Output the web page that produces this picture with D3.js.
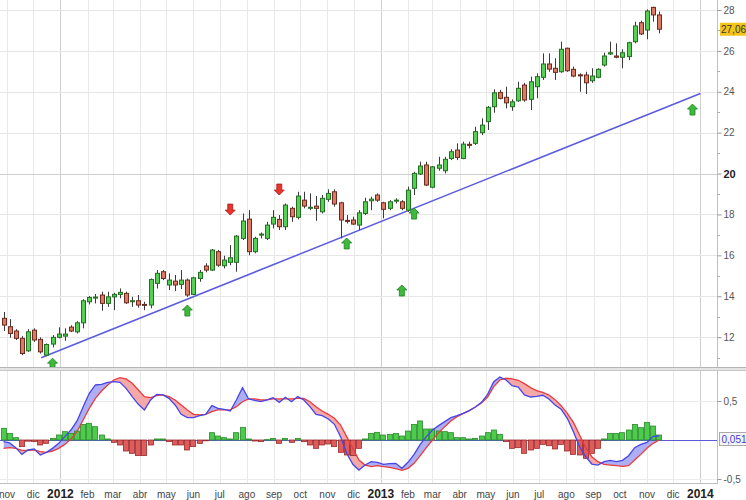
<!DOCTYPE html>
<html><head><meta charset="utf-8">
<script src="https://cdn.jsdelivr.net/npm/d3@7"></script>
<style>body{margin:0;background:#fff}svg{display:block;font-family:"Liberation Sans",Arial,sans-serif}</style>
</head><body><svg id="c" width="746" height="500"></svg>
<script>
// ---------- DATA ----------
const firstWeek = "2011-10-28";
const opens = [12.92,12.51,12.30,11.94,11.33,12.34,11.89,11.12,11.66,11.99, 12.05,12.49,12.26,12.70,13.73,13.93,14.06,13.65,13.97,14.09, 14.14,13.74,13.78,13.60,13.57,14.63,15.20,14.55,14.74,14.58, 14.79,14.09,14.87,15.48,15.28,16.18,15.49,15.66,15.66,16.83, 17.77,16.18,17.00,16.83,17.53,17.76,17.40,18.30,17.86,18.70, 18.33,18.41,18.13,18.74,19.11,18.57,17.71,17.73,17.48,18.05, 18.67,18.95,18.57,18.30,18.68,18.62,18.21,19.28,19.98,20.42, 19.33,20.26,20.14,20.74,21.15,20.74,21.43,21.48,22.00,22.54, 23.27,23.97,23.73,23.27,23.56,24.33,23.63,24.25,24.71,25.36, 25.15,24.98,26.13,25.10,24.83,24.82,24.54,24.71,25.31,25.85, 25.75,25.69,25.72,26.45,27.38,27.02,28.13,27.76];
const highs = [13.23,12.88,12.39,12.05,12.39,12.43,11.99,11.69,12.10,12.48, 12.43,12.58,12.78,13.85,14.01,14.11,14.22,14.22,14.17,14.38, 14.22,13.97,14.06,13.73,14.87,15.28,15.28,15.12,15.04,15.28, 14.87,14.95,15.28,15.61,16.31,16.26,15.98,16.50,16.99,18.05, 18.21,16.91,17.12,17.64,18.21,17.97,18.54,18.38,19.11,19.11, 19.03,18.90,18.95,19.23,19.23,18.62,17.97,17.89,18.21,18.82, 18.87,19.03,18.62,18.70,18.79,18.70,19.36,20.09,20.58,20.58, 20.37,20.82,20.82,21.19,21.48,21.56,21.56,22.29,22.70,23.30, 24.12,24.09,24.25,23.63,24.49,24.44,24.74,24.90,25.88,25.88, 25.64,26.45,26.16,25.23,24.90,24.98,25.15,25.15,25.91,26.45, 26.37,26.08,26.45,27.43,27.48,28.03,28.16,27.92];
const lows = [12.30,11.97,11.86,11.12,11.28,11.77,11.20,11.07,11.50,11.94, 11.82,12.25,12.18,12.43,13.60,13.65,13.29,13.48,13.32,13.90, 13.62,13.48,13.44,13.32,13.41,14.38,14.79,14.30,14.25,14.35, 13.97,14.06,14.71,15.17,15.23,15.44,15.36,15.52,15.20,16.75, 16.01,16.10,16.83,16.75,17.32,17.24,17.24,17.64,17.76,18.30, 18.21,17.69,18.05,18.62,18.38,16.83,17.56,17.48,17.24,17.97, 18.21,18.62,17.81,18.21,18.54,18.21,18.13,18.95,19.93,19.39, 19.28,20.14,20.01,20.66,20.66,20.70,21.23,21.40,21.88,22.13, 22.98,23.63,23.19,23.07,23.51,23.51,23.11,23.68,24.58,24.98, 24.58,24.93,24.98,24.71,24.00,23.89,24.44,24.66,25.23,25.80, 25.64,25.15,25.55,26.37,26.78,26.57,27.43,26.86];
const closes = [12.59,12.18,11.94,11.20,12.26,11.86,11.28,11.64,11.99,12.15, 12.15,12.30,12.70,13.78,13.94,13.96,13.65,13.97,14.09,14.19, 13.68,13.78,13.57,13.58,14.82,15.12,14.87,14.79,14.55,14.79, 14.06,14.90,15.17,15.28,16.26,15.52,15.77,15.88,16.94,17.68, 16.18,16.83,17.04,17.48,17.86,17.40,18.46,17.89,18.90,18.41, 18.35,18.30,18.79,19.03,18.51,17.73,17.69,17.53,18.08,18.62, 18.75,18.70,18.25,18.62,18.70,18.30,19.19,20.01,20.37,19.44, 20.33,20.42,20.70,21.07,20.79,21.44,21.38,22.05,22.37,23.24, 23.95,23.68,23.46,23.51,24.17,23.60,24.49,24.74,25.36,25.11, 24.95,26.08,25.03,24.77,24.80,24.44,24.77,25.10,25.75,25.91, 25.69,25.91,26.40,27.22,26.83,27.95,27.76,27.06];

const macdLine = [-0.021,-0.038,-0.098,-0.184,-0.128,-0.115,-0.192,-0.158,-0.107,-0.043, 0.043,0.128,0.244,0.427,0.598,0.705,0.714,0.739,0.748,0.739, 0.662,0.556,0.457,0.385,0.513,0.585,0.577,0.534,0.449,0.329, 0.286,0.286,0.312,0.329,0.440,0.406,0.393,0.372,0.513,0.671, 0.526,0.509,0.491,0.513,0.543,0.483,0.547,0.491,0.556,0.513, 0.427,0.329,0.312,0.269,0.201,0.043,-0.171,-0.312,-0.385,-0.321, -0.278,-0.286,-0.312,-0.303,-0.299,-0.363,-0.286,-0.184,-0.056,0.043, 0.128,0.184,0.235,0.286,0.312,0.342,0.376,0.423,0.483,0.585, 0.748,0.808,0.769,0.697,0.679,0.577,0.551,0.560,0.573,0.526, 0.449,0.393,0.278,0.107,-0.085,-0.214,-0.308,-0.321,-0.278,-0.261, -0.278,-0.261,-0.201,-0.098,-0.056,-0.030,0.047,0.051];
const signalLine = [-0.107,-0.098,-0.107,-0.132,-0.132,-0.128,-0.150,-0.158,-0.141,-0.107, -0.056,0.013,0.107,0.256,0.406,0.534,0.628,0.705,0.769,0.799, 0.782,0.726,0.641,0.556,0.543,0.568,0.577,0.556,0.513,0.449, 0.385,0.329,0.321,0.329,0.363,0.385,0.385,0.385,0.427,0.491, 0.526,0.526,0.513,0.513,0.526,0.526,0.526,0.526,0.534,0.534, 0.491,0.427,0.372,0.329,0.278,0.192,0.043,-0.107,-0.256,-0.321, -0.342,-0.329,-0.342,-0.350,-0.368,-0.389,-0.363,-0.299,-0.201,-0.098, 0.000,0.094,0.171,0.244,0.299,0.338,0.376,0.423,0.474,0.551, 0.684,0.769,0.791,0.782,0.765,0.722,0.671,0.632,0.611,0.577, 0.517,0.440,0.342,0.226,0.064,-0.098,-0.214,-0.278,-0.312,-0.321, -0.329,-0.338,-0.329,-0.256,-0.184,-0.107,-0.043,0.000];
const histogram = [0.150,0.085,0.030,-0.085,-0.015,-0.020,-0.064,-0.043,0.021,0.064, 0.107,0.085,0.115,0.200,0.214,0.171,0.064,0.013,-0.030,-0.064, -0.141,-0.171,-0.200,-0.200,-0.064,0.013,0.013,-0.021,-0.064,-0.064, -0.128,-0.085,-0.043,-0.010,0.094,0.051,0.030,0.013,0.094,0.162, 0.013,-0.013,-0.021,0.005,0.021,-0.043,0.021,-0.030,0.021,-0.021, -0.064,-0.107,-0.064,-0.051,-0.085,-0.158,-0.192,-0.200,-0.107,0.013, 0.085,0.098,0.064,0.073,0.085,0.051,0.115,0.200,0.244,0.141, 0.141,0.115,0.107,0.094,0.030,0.030,0.013,0.021,0.051,0.094, 0.128,0.073,-0.021,-0.107,-0.098,-0.171,-0.128,-0.107,-0.056,-0.073, -0.115,-0.056,-0.141,-0.184,-0.192,-0.235,-0.171,-0.107,0.013,0.085, 0.085,0.094,0.128,0.200,0.158,0.226,0.179,0.064];

const signalDates = ["2011-12-23","2012-05-25","2012-07-13","2012-09-07","2012-11-23","2013-01-25","2013-02-08","2013-12-23"];
const signalPrices = [10.97,13.57,17.97,18.95,16.85,14.55,18.31,23.40];
const signalDirs = ["up","up","down","down","up","up","up","up"];

const trendDates = ["2011-12-10","2014-01-01"];
const trendPrices = [10.99,23.92];

const priceTicks = [12,14,16,18,20,22,24,26,28];
const priceMinorTicks = [11,13,15,17,19,21,23,25,27];
const macdTicks = [0.5,-0.5];
const monthNames = ["ene","feb","mar","abr","may","jun","jul","ago","sep","oct","nov","dic"];
const lastPrice = 27.06;
const lastMacd = 0.051;

// ---------- LAYOUT ----------
const plotR = 717;
const mainTop = 0, mainBot = 367;
const macdTop = 370, macdBot = 483;
const parse = d3.utcParse("%Y-%m-%d");
const fmt = v => d3.format(",.2f")(v).replace(".", ",");

const svg = d3.select("#c");
const x = d3.scaleUtc().domain([parse("2011-10-24"), parse("2014-01-20")]).range([0, plotR]);
const y = d3.scaleLinear().domain([10.49, 28.49]).range([368, 0]);
const yM = d3.scaleLinear().domain([-0.551, 0.897]).range([macdBot, macdTop]);

const dates = d3.range(opens.length).map(i => d3.utcDay.offset(parse(firstWeek), 7 * i));
const candles = dates.map((d, i) => ({d, o: opens[i], h: highs[i], l: lows[i], c: closes[i]}));

const months = d3.utcMonth.range(parse("2011-11-01"), parse("2014-01-20"));

// ---------- GRID ----------
const grid = svg.append("g");
[[mainTop, mainBot], [macdTop, macdBot]].forEach(([t, b]) => {
  grid.selectAll(null).data(months).join("line")
    .attr("x1", d => Math.round(x(d)) + 0.5).attr("x2", d => Math.round(x(d)) + 0.5)
    .attr("y1", t).attr("y2", b)
    .attr("stroke", d => d.getUTCMonth() === 0 ? "#cfcfcf" : "#e9e9e9");
});
grid.selectAll(null).data(priceTicks).join("line")
  .attr("x1", 0).attr("x2", plotR)
  .attr("y1", d => Math.round(y(d)) + 0.5).attr("y2", d => Math.round(y(d)) + 0.5)
  .attr("stroke", d => d === 20 ? "#cfcfcf" : "#e6e6e6");
grid.selectAll(null).data(macdTicks).join("line")
  .attr("x1", 0).attr("x2", plotR)
  .attr("y1", d => Math.round(yM(d)) + 0.5).attr("y2", d => Math.round(yM(d)) + 0.5)
  .attr("stroke", "#ececec");

// ---------- MAIN PANEL ----------
svg.append("clipPath").attr("id", "clipMain").append("rect")
  .attr("x", 0).attr("y", mainTop).attr("width", plotR).attr("height", mainBot - mainTop);
const main = svg.append("g").attr("clip-path", "url(#clipMain)");

main.append("line")
  .attr("x1", x(parse(trendDates[0]))).attr("y1", y(trendPrices[0]))
  .attr("x2", x(parse(trendDates[1]))).attr("y2", y(trendPrices[1]))
  .attr("stroke", "#5b5be0").attr("stroke-width", 1.5);

const cg = main.append("g");
cg.selectAll(".wick").data(candles).join("line")
  .attr("x1", d => Math.round(x(d.d)) + 0.5).attr("x2", d => Math.round(x(d.d)) + 0.5)
  .attr("y1", d => y(d.h)).attr("y2", d => y(d.l))
  .attr("stroke", "#3a3a3a").attr("stroke-width", 1);
cg.selectAll(".body").data(candles).join("rect")
  .attr("x", d => Math.round(x(d.d)) - 2 + 0.5)
  .attr("y", d => y(Math.max(d.o, d.c)))
  .attr("width", 4)
  .attr("height", d => Math.max(1, Math.abs(y(d.o) - y(d.c))))
  .attr("fill", d => d.c >= d.o ? "#55d055" : "#db7b66")
  .attr("stroke", d => d.c >= d.o ? "#236f23" : "#6e2a1e")
  .attr("stroke-width", 1);

const arrowUp = "M0,0 L5,5 L2.5,5 L2.5,11 L-2.5,11 L-2.5,5 L-5,5 Z";
const arrowDown = "M0,0 L5,-5 L2.5,-5 L2.5,-11 L-2.5,-11 L-2.5,-5 L-5,-5 Z";
main.selectAll(".arrow").data(signalDates.map((d, i) => ({d: parse(d), p: signalPrices[i], dir: signalDirs[i]})))
  .join("path")
  .attr("transform", d => `translate(${x(d.d)},${y(d.p)})`)
  .attr("d", d => d.dir === "up" ? arrowUp : arrowDown)
  .attr("fill", d => d.dir === "up" ? "#3dba3d" : "#e8342c")
  .attr("stroke", d => d.dir === "up" ? "#1f7f1f" : "#a81c16")
  .attr("stroke-width", 0.8);

// ---------- MACD PANEL ----------
svg.append("clipPath").attr("id", "clipMacd").append("rect")
  .attr("x", 0).attr("y", macdTop).attr("width", plotR).attr("height", macdBot - macdTop);
const mg = svg.append("g").attr("clip-path", "url(#clipMacd)");
const md = dates.map((d, i) => ({d, m: macdLine[i], s: signalLine[i], h: histogram[i]}));

const defs = svg.append("defs");
defs.append("clipPath").attr("id", "aboveSig").append("path")
  .attr("d", d3.area().x(d => x(d.d)).y0(macdTop).y1(d => yM(d.s))(md));
defs.append("clipPath").attr("id", "belowSig").append("path")
  .attr("d", d3.area().x(d => x(d.d)).y0(macdBot).y1(d => yM(d.s))(md));
const between = d3.area().x(d => x(d.d)).y0(d => yM(d.s)).y1(d => yM(d.m));
mg.append("g").attr("clip-path", "url(#aboveSig)").append("path")
  .attr("d", between(md)).attr("fill", "#aeaef5");
mg.append("g").attr("clip-path", "url(#belowSig)").append("path")
  .attr("d", between(md)).attr("fill", "#f5a8a8");

mg.append("line").attr("x1", 0).attr("x2", plotR)
  .attr("y1", Math.round(yM(0)) + 0.5).attr("y2", Math.round(yM(0)) + 0.5)
  .attr("stroke", "#5a5ad8").attr("stroke-width", 1);

mg.selectAll(".hb").data(md).join("rect")
  .attr("x", d => Math.round(x(d.d)) - 2.5)
  .attr("y", d => Math.min(yM(0), yM(d.h)))
  .attr("width", 5)
  .attr("height", d => Math.abs(yM(d.h) - yM(0)))
  .attr("fill", d => d.h >= 0 ? "#4ccb4c" : "#e05c5c")
  .attr("stroke", d => d.h >= 0 ? "#2a8a2a" : "#9a2a2a")
  .attr("stroke-width", 0.8);

mg.append("path").attr("d", d3.line().x(d => x(d.d)).y(d => yM(d.s))(md))
  .attr("fill", "none").attr("stroke", "#e83c3c").attr("stroke-width", 1.3);
mg.append("path").attr("d", d3.line().x(d => x(d.d)).y(d => yM(d.m))(md))
  .attr("fill", "none").attr("stroke", "#4646e6").attr("stroke-width", 1.3);

// ---------- FRAMES ----------
svg.append("line").attr("x1", 0).attr("x2", 746).attr("y1", 367.5).attr("y2", 367.5).attr("stroke", "#b5b5b5");
svg.append("rect").attr("x", 0).attr("y", 368).attr("width", 746).attr("height", 2).attr("fill", "#e4e4e4");
svg.append("line").attr("x1", 0).attr("x2", 746).attr("y1", 370.5).attr("y2", 370.5).attr("stroke", "#c8c8c8");
svg.append("line").attr("x1", 0).attr("x2", plotR + 1).attr("y1", macdBot + 0.5).attr("y2", macdBot + 0.5).attr("stroke", "#c0c0c0");
svg.append("line").attr("x1", plotR + 0.5).attr("x2", plotR + 0.5).attr("y1", 0).attr("y2", 367).attr("stroke", "#c0c0c0");
svg.append("line").attr("x1", plotR + 0.5).attr("x2", plotR + 0.5).attr("y1", 371).attr("y2", macdBot).attr("stroke", "#c0c0c0");

// ---------- AXES ----------
const yAxis = d3.axisRight(y).tickValues(priceTicks).tickSize(4).tickPadding(2).tickFormat(d => d);
const ya = svg.append("g").attr("transform", `translate(${plotR + 0.5},0)`).call(yAxis);
ya.select(".domain").remove();
ya.selectAll("line").attr("stroke", "#999");
ya.selectAll("text")
  .attr("font-weight", d => d === 20 ? "bold" : null)
  .attr("font-size", d => d === 20 ? 11 : 10)
  .attr("fill", d => d === 20 ? "#222" : "#555");
svg.append("g").selectAll("line").data(priceMinorTicks).join("line")
  .attr("x1", plotR + 0.5).attr("x2", plotR + 3)
  .attr("y1", d => Math.round(y(d)) + 0.5).attr("y2", d => Math.round(y(d)) + 0.5)
  .attr("stroke", "#aaa");

const mAxis = d3.axisRight(yM).tickValues(macdTicks).tickSize(4).tickPadding(2).tickFormat(d => String(d).replace(".", ","));
const ma = svg.append("g").attr("transform", `translate(${plotR + 0.5},0)`).call(mAxis);
ma.select(".domain").remove();
ma.selectAll("line").attr("stroke", "#999");
ma.selectAll("text").attr("fill", "#555").attr("font-size", 10);

svg.append("rect").attr("x", 720).attr("y", y(lastPrice) - 6.5).attr("width", 26).attr("height", 13).attr("fill", "#f3c41a");
svg.append("text").attr("x", 721).attr("y", y(lastPrice)).attr("dy", "0.35em")
  .attr("font-size", 10).attr("fill", "#333").text(fmt(lastPrice));

const tagY = yM(0) - 1;
svg.append("rect").attr("x", 719.5).attr("y", tagY - 6.5).attr("width", 27).attr("height", 13)
  .attr("fill", "#f4f4f4").attr("stroke", "#aaa");
svg.append("text").attr("x", 721.5).attr("y", tagY).attr("dy", "0.35em")
  .attr("font-size", 10).attr("fill", "#3b3bd6").text(String(lastMacd).replace("0.", "0,"));

svg.append("g").selectAll("text").data(months).join("text")
  .attr("x", d => x(d)).attr("y", 498).attr("text-anchor", "middle")
  .attr("font-size", d => d.getUTCMonth() === 0 ? 12 : 10)
  .attr("font-weight", d => d.getUTCMonth() === 0 ? "bold" : null)
  .attr("fill", d => d.getUTCMonth() === 0 ? "#222" : "#444")
  .text(d => d.getUTCMonth() === 0 ? d.getUTCFullYear() : monthNames[d.getUTCMonth()]);
</script></body></html>
